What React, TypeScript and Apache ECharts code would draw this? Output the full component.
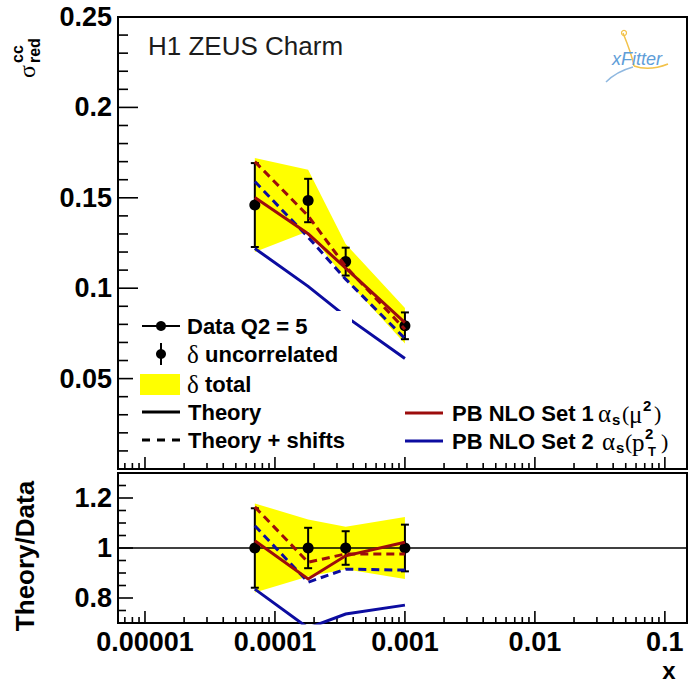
import React, { useEffect, useRef } from 'react';
import * as echarts from 'echarts';

// Charm reduced cross section at Q2 = 5 GeV^2 versus x, with PB NLO predictions
const X_POINTS = [7e-5, 1.8e-4, 3.5e-4, 1e-3];
const SIGMA_DATA = [0.146, 0.1485, 0.1147, 0.0792];
const ERR_UNCORR = [0.0232, 0.012, 0.0077, 0.0074];
const ERR_TOTAL = [0.026, 0.017, 0.0098, 0.0098];
const SET1_THEORY = [0.1502, 0.1301, 0.1111, 0.081];
const SET1_SHIFTED = [0.17, 0.14, 0.112, 0.0773];
const SET2_THEORY = [0.122, 0.101, 0.0844, 0.0611];
const SET2_SHIFTED = [0.159, 0.1282, 0.105, 0.0722];

const X_DECADE_LABELS = ['0.00001', '0.0001', '0.001', '0.01', '0.1'];

const X_MIN = 6.2e-6;
const X_MAX = 0.148;
const TOP_Y = [0, 0.25];
const RATIO_Y = [0.7, 1.3];

const W = 689;
const H = 682;
const SANS = '"Liberation Sans", Arial, Helvetica, sans-serif';
const SERIF = '"Liberation Serif", "DejaVu Serif", serif';
const RED = '#9c0c0c';
const BLUE = '#0c0ca0';
const YELLOW = '#ffff00';
const DASH = [8, 5];

const pairs = (ys: number[]) => X_POINTS.map((x, i) => [x, ys[i]]);
const toRatio = (ys: number[]) => ys.map((v, i) => v / SIGMA_DATA[i]);

function bandSeries(xi: number, centre: number[], err: number[]) {
  return {
    type: 'custom',
    xAxisIndex: xi,
    yAxisIndex: xi,
    silent: true,
    data: [[X_POINTS[0], centre[0]]],
    encode: { x: 0, y: 1 },
    renderItem: (_p: any, api: any) => {
      const up = X_POINTS.map((x, i) => api.coord([x, centre[i] + err[i]]));
      const lo = X_POINTS.map((x, i) => api.coord([x, centre[i] - err[i]])).reverse();
      return { type: 'polygon', shape: { points: up.concat(lo) }, style: { fill: YELLOW } };
    },
  };
}

function theoryLine(xi: number, ys: number[], color: string, dashed: boolean) {
  return {
    type: 'line',
    xAxisIndex: xi,
    yAxisIndex: xi,
    data: pairs(ys),
    symbol: 'none',
    silent: true,
    clip: true,
    lineStyle: { color, width: 3, type: dashed ? DASH : 'solid', cap: 'butt', join: 'miter' },
  };
}

function errorBars(xi: number, centre: number[], err: number[]) {
  return {
    type: 'custom',
    xAxisIndex: xi,
    yAxisIndex: xi,
    silent: true,
    data: X_POINTS.map((x, i) => [x, centre[i], centre[i] - err[i], centre[i] + err[i]]),
    encode: { x: 0, y: 1 },
    renderItem: (_p: any, api: any) => {
      const a = api.coord([api.value(0), api.value(2)]);
      const b = api.coord([api.value(0), api.value(3)]);
      const st = { stroke: '#000', lineWidth: 2 };
      return {
        type: 'group',
        children: [
          { type: 'line', shape: { x1: a[0], y1: a[1], x2: b[0], y2: b[1] }, style: st },
          { type: 'line', shape: { x1: a[0] - 4, y1: a[1], x2: a[0] + 4, y2: a[1] }, style: st },
          { type: 'line', shape: { x1: b[0] - 4, y1: b[1], x2: b[0] + 4, y2: b[1] }, style: st },
        ],
      };
    },
  };
}

function dots(xi: number, ys: number[]) {
  return {
    type: 'scatter',
    xAxisIndex: xi,
    yAxisIndex: xi,
    silent: true,
    data: pairs(ys),
    symbol: 'circle',
    symbolSize: 11,
    itemStyle: { color: '#000', opacity: 1 },
  };
}

// Log-x minor ticks (2..9) and decade ticks, plus y ticks along the left frame
function tickSeries(xi: number, yMin: number, yTicks: { v: number; len: number }[]) {
  const xTicks: { v: number; len: number }[] = [];
  for (let n = -6; n <= -1; n++) {
    for (let k = 1; k <= 9; k++) {
      const v = k * Math.pow(10, n);
      if (v >= X_MIN && v <= X_MAX) xTicks.push({ v, len: k === 1 ? 12 : 6 });
    }
  }
  return {
    type: 'custom',
    xAxisIndex: xi,
    yAxisIndex: xi,
    silent: true,
    data: [[1e-3, yMin]],
    encode: { x: 0, y: 1 },
    renderItem: (_p: any, api: any) => {
      const st = { stroke: '#000', lineWidth: 1.6 };
      const children: any[] = [];
      yTicks.forEach((t) => {
        const p = api.coord([X_MIN, t.v]);
        children.push({ type: 'line', shape: { x1: p[0], y1: p[1], x2: p[0] + t.len, y2: p[1] }, style: st });
      });
      xTicks.forEach((t) => {
        const p = api.coord([t.v, yMin]);
        children.push({ type: 'line', shape: { x1: p[0], y1: p[1], x2: p[0], y2: p[1] - t.len }, style: st });
      });
      return { type: 'group', children };
    },
  };
}

function txt(x: number, y: number, text: string, font: string, extra: any = {}) {
  return {
    type: 'text',
    x,
    y,
    z: 101,
    silent: true,
    style: {
      text,
      font,
      fill: '#000',
      align: 'left',
      textAlign: 'left',
      verticalAlign: 'middle',
      textVerticalAlign: 'middle',
      ...extra,
    },
  };
}

function seg(x1: number, y1: number, x2: number, y2: number, stroke: string, lineWidth: number, lineDash?: number[]) {
  return {
    type: 'line',
    z: 101,
    silent: true,
    shape: { x1, y1, x2, y2 },
    style: { stroke, lineWidth, lineDash },
  };
}

function buildOption() {
  const topTicks: { v: number; len: number }[] = [];
  for (let k = 1; k <= 25; k++) topTicks.push({ v: k / 100, len: k % 5 === 0 ? 20 : 10 });
  const ratioTicks: { v: number; len: number }[] = [];
  for (let k = 15; k <= 25; k++) ratioTicks.push({ v: k / 20, len: k % 4 === 0 ? 15 : 8 });

  const B = `bold 22px ${SANS}`;
  const G = `22px ${SERIF}`;
  const GA = `25px ${SERIF}`;
  const SUB = `bold 15px ${SANS}`;
  const graphic: any[] = [
    // legend background
    { type: 'rect', z: 100, silent: true, shape: { x: 133, y: 311, width: 219, height: 146 }, style: { fill: '#fff' } },
    seg(142, 326, 180, 326, '#000', 2),
    { type: 'circle', z: 101, silent: true, shape: { cx: 161, cy: 326, r: 5 }, style: { fill: '#000' } },
    txt(187, 326, 'Data Q2 = 5', B),
    seg(161, 343, 161, 365, '#000', 2),
    { type: 'circle', z: 101, silent: true, shape: { cx: 161, cy: 354, r: 5 }, style: { fill: '#000' } },
    txt(187, 354, 'δ', GA),
    txt(205, 354, 'uncorrelated', B),
    { type: 'rect', z: 101, silent: true, shape: { x: 140, y: 374, width: 40, height: 21 }, style: { fill: YELLOW } },
    txt(187, 384, 'δ', GA),
    txt(205, 384, 'total', B),
    seg(142, 412, 180, 412, '#000', 3),
    txt(188, 412, 'Theory', B),
    seg(142, 440, 180, 440, '#000', 3, [8, 7]),
    txt(188, 440, 'Theory + shifts', B),

    seg(405, 413, 443, 413, RED, 3),
    txt(452, 413, 'PB NLO Set 1', B),
    txt(598, 413, 'α', GA),
    txt(612, 419, 's', SUB),
    txt(622, 413, '(', G),
    txt(629, 414, 'μ', GA),
    txt(643, 405, '2', SUB),
    txt(654, 413, ')', G),

    seg(405, 441, 443, 441, BLUE, 3),
    txt(452, 441, 'PB NLO Set 2', B),
    txt(602, 441, 'α', GA),
    txt(616, 447, 's', SUB),
    txt(625, 441, '(', G),
    txt(632, 442, 'p', GA),
    txt(645, 433, '2', SUB),
    txt(648, 451, 'T', `bold 13px ${SANS}`),
    txt(661, 441, ')', G),

    txt(148, 46, 'H1 ZEUS Charm', `26px ${SANS}`, { fill: '#1c1c1c' }),

    // xFitter mark
    { type: 'bezierCurve', z: 101, silent: true, shape: { x1: 623, y1: 33, cpx1: 628, cpy1: 45, cpx2: 632, cpy2: 56, x2: 634, y2: 66 }, style: { stroke: '#f2c24a', lineWidth: 1.5, fill: 'none' } },
    { type: 'bezierCurve', z: 101, silent: true, shape: { x1: 634, y1: 66, cpx1: 645, cpy1: 70, cpx2: 658, cpy2: 68, x2: 668, y2: 64 }, style: { stroke: '#f2c24a', lineWidth: 1.5, fill: 'none' } },
    { type: 'bezierCurve', z: 101, silent: true, shape: { x1: 606, y1: 82, cpx1: 612, cpy1: 76, cpx2: 622, cpy2: 70, x2: 633, y2: 67 }, style: { stroke: '#8fb8e0', lineWidth: 1.5, fill: 'none' } },
    { type: 'circle', z: 101, silent: true, shape: { cx: 624, cy: 33, r: 2.5 }, style: { fill: 'none', stroke: '#f2c24a', lineWidth: 1.2 } },
    txt(612, 59, 'xFitter', `italic 18px ${SANS}`, { fill: '#5f9ed8' }),

    // axis titles
    {
      type: 'group', x: 27, y: 78, rotation: Math.PI / 2, z: 101, silent: true,
      children: [
        { type: 'text', x: 0, y: 0, style: { text: 'σ', font: `24px ${SERIF}`, fill: '#000', align: 'left', verticalAlign: 'middle' } },
        { type: 'text', x: 15, y: -10, style: { text: 'cc', font: `bold 16px ${SANS}`, fill: '#000', align: 'left', verticalAlign: 'middle' } },
        { type: 'text', x: 15, y: 7, style: { text: 'red', font: `bold 16px ${SANS}`, fill: '#000', align: 'left', verticalAlign: 'middle' } },
      ],
    },
    {
      type: 'text', x: 25, y: 556, rotation: Math.PI / 2, z: 101, silent: true,
      style: { text: 'Theory/Data', font: `bold 26px ${SANS}`, fill: '#000', align: 'center', verticalAlign: 'middle' },
    },
    txt(669, 682, 'x', `bold 24px ${SANS}`, { align: 'center', textAlign: 'center', verticalAlign: 'bottom', textVerticalAlign: 'bottom' }),
  ];

  const decadeLabel = (v: number) => {
    const e = Math.log10(v);
    const r = Math.round(e);
    if (Math.abs(e - r) > 1e-6) return '';
    const idx = r + 5;
    return idx >= 0 && idx < X_DECADE_LABELS.length ? X_DECADE_LABELS[idx] : '';
  };
  const labelFont = { fontFamily: SANS, fontWeight: 'bold', fontSize: 27, color: '#000' };

  const xAxisBase = {
    type: 'log',
    logBase: 10,
    min: X_MIN,
    max: X_MAX,
    axisLine: { show: false },
    axisTick: { show: false },
    splitLine: { show: false },
    minorTick: { show: false },
  };

  return {
    animation: false,
    backgroundColor: '#fff',
    grid: [
      { left: 118, top: 17, width: 569, height: 452, show: true, borderColor: '#000', borderWidth: 2, backgroundColor: 'transparent' },
      { left: 118, top: 473, width: 569, height: 150, show: true, borderColor: '#000', borderWidth: 2, backgroundColor: 'transparent' },
    ],
    xAxis: [
      { ...xAxisBase, gridIndex: 0, axisLabel: { show: false } },
      {
        ...xAxisBase,
        gridIndex: 1,
        axisLabel: { ...labelFont, margin: 5, formatter: decadeLabel, showMinLabel: false, showMaxLabel: false },
      },
    ],
    yAxis: [
      {
        type: 'value', gridIndex: 0, min: TOP_Y[0], max: TOP_Y[1], interval: 0.05,
        axisLine: { show: false }, axisTick: { show: false }, splitLine: { show: false },
        axisLabel: { ...labelFont, margin: 6, formatter: (v: number) => (v === 0 ? '' : String(+v.toFixed(2))) },
      },
      {
        type: 'value', gridIndex: 1, min: RATIO_Y[0], max: RATIO_Y[1], interval: 0.1,
        axisLine: { show: false }, axisTick: { show: false }, splitLine: { show: false },
        axisLabel: {
          ...labelFont, margin: 6,
          formatter: (v: number) => {
            const r = Math.round(v * 10) / 10;
            return r === 0.8 || r === 1 || r === 1.2 ? String(r) : '';
          },
        },
      },
    ],
    series: [
      bandSeries(0, SIGMA_DATA, ERR_TOTAL),
      theoryLine(0, SET2_THEORY, BLUE, false),
      theoryLine(0, SET2_SHIFTED, BLUE, true),
      theoryLine(0, SET1_THEORY, RED, false),
      theoryLine(0, SET1_SHIFTED, RED, true),
      errorBars(0, SIGMA_DATA, ERR_UNCORR),
      dots(0, SIGMA_DATA),
      tickSeries(0, TOP_Y[0], topTicks),

      bandSeries(1, SIGMA_DATA.map(() => 1), toRatio(ERR_TOTAL)),
      {
        type: 'line', xAxisIndex: 1, yAxisIndex: 1, silent: true, symbol: 'none',
        data: [[X_MIN, 1], [X_MAX, 1]],
        lineStyle: { color: '#000', width: 1.5 },
      },
      theoryLine(1, toRatio(SET2_THEORY), BLUE, false),
      theoryLine(1, toRatio(SET2_SHIFTED), BLUE, true),
      theoryLine(1, toRatio(SET1_THEORY), RED, false),
      theoryLine(1, toRatio(SET1_SHIFTED), RED, true),
      errorBars(1, SIGMA_DATA.map(() => 1), toRatio(ERR_UNCORR)),
      dots(1, SIGMA_DATA.map(() => 1)),
      tickSeries(1, RATIO_Y[0], ratioTicks),
    ],
    graphic,
  };
}

export default function App() {
  const ref = useRef<HTMLDivElement>(null);
  useEffect(() => {
    const chart = echarts.init(ref.current!, null, { renderer: 'svg', width: W, height: H });
    chart.setOption(buildOption() as any);
    return () => chart.dispose();
  }, []);
  return (
    <div
      ref={ref}
      style={{ position: 'absolute', left: 0, top: 0, width: W, height: H, background: '#fff' }}
    />
  );
}
